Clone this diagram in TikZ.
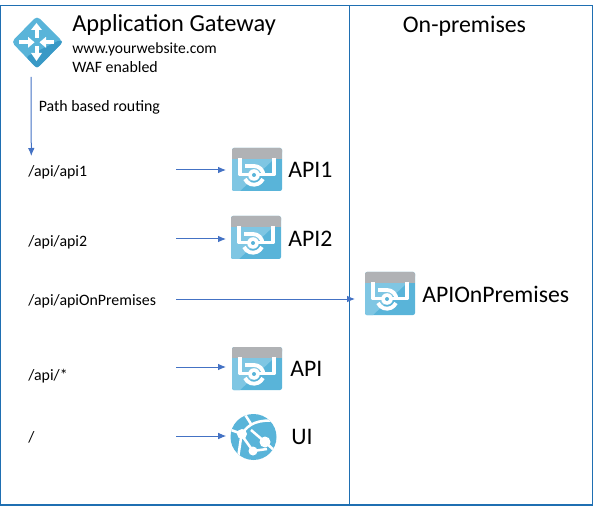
\documentclass[tikz,border=0pt]{standalone}
\usepackage{fontspec}
\setmainfont{Carlito}
\usetikzlibrary{arrows.meta}
\definecolor{frameblue}{HTML}{1F6FB2}
\definecolor{arrowblue}{HTML}{4472C4}
\definecolor{azure}{HTML}{59B4D9}
\definecolor{azurelight}{HTML}{7FC6E3}
\definecolor{azuredark}{HTML}{3999C6}
\definecolor{bargrey}{HTML}{B0B2B5}
\tikzset{
  x=0.75pt,y=-0.75pt,
  frameline/.style={draw=frameblue,line width=0.9pt},
  routeline/.style={draw=arrowblue,line width=0.75pt,-{Latex[length=6pt,width=5pt]}},
  routetext/.style={anchor=west,inner sep=0pt,font=\fontsize{11.9}{14}\selectfont},
  apitext/.style={anchor=west,inner sep=0pt,font=\fontsize{17.8}{20}\selectfont},
  apibox/.style={minimum width=37.5pt,minimum height=32.25pt,inner sep=0pt,anchor=north west},
  apiglyph/.style={draw=white,line width=2.9pt,line join=round},
  globeline/.style={draw=white,line width=1.9pt},
  gwshaft/.style={draw=white,line width=3pt},
  pics/apiicon/.style={code={
    \fill[azure,rounded corners=1.5pt] (0,0) rectangle (50,43);
    \fill[azurelight] (0,41) -- (0,11) -- (42,11) -- (8,43) -- (1,43) -- cycle;
    \fill[bargrey,rounded corners=1.2pt] (0,0) rectangle (50,6);
    \fill[bargrey] (0,4) rectangle (50,11);
    \draw[apiglyph] (8,10) -- (8,26.5) -- (20,26.5);
    \draw[apiglyph] (42,10) -- (42,26.5) -- (27,26.5);
    \draw[apiglyph] (13,18) -- (22,18) arc[start angle=270,end angle=360,radius=9.5];
    \draw[apiglyph] (13,31) arc[start angle=155,end angle=25,radius=9.9];
    \fill[white] (22,27) circle[radius=5.8];
    \fill[azure] (22,27) circle[radius=2];
  }}
}
\begin{document}
\begin{tikzpicture}
\useasboundingbox (0,0) rectangle (593,506);
\coordinate (tl) at (0.7,5.5);
\coordinate (br) at (592.3,505);
\coordinate (divt) at (349.5,5.5);
\coordinate (divb) at (349.5,505);
\draw[frameline] (tl) rectangle (br);
\draw[frameline] (divt) -- (divb);

% gateway icon
\fill[azure,rounded corners=3pt] (37,16) -- (63,42) -- (37,68.5) -- (11.5,42) -- cycle;
\fill[azuredark,rounded corners=2pt] (60,40) -- (63,42) -- (37,68.5) -- (26,57) -- cycle;
\draw[gwshaft] (36.5,38) -- (36.5,28);
\fill[white] (36.5,23) -- (42,30) -- (31,30) -- cycle;
\draw[gwshaft] (36.5,46) -- (36.5,54);
\fill[white] (36.5,61) -- (42,53) -- (31,53) -- cycle;
\draw[gwshaft] (19,42.3) -- (29,42.3);
\fill[white] (34.5,42.3) -- (28,36.8) -- (28,47.8) -- cycle;
\draw[gwshaft] (54,42.3) -- (45,42.3);
\fill[white] (39.5,42.3) -- (46,36.8) -- (46,47.8) -- cycle;

\node[anchor=west,inner sep=0pt,font=\fontsize{18.3}{22}\selectfont] (title) at (72,25) {Application Gateway};
\node[routetext,font=\fontsize{11.65}{14}\selectfont] (site) at (72,49) {www.yourwebsite.com};
\node[routetext] (waf) at (72,67.5) {WAF enabled};
\node[anchor=center,inner sep=0pt,font=\fontsize{17.9}{20}\selectfont] (onprem) at (464.5,26) {On-premises};
\node[routetext] (pbr) at (38.5,107) {Path based routing};

\coordinate (gwout) at (31,77);
\coordinate (gwin) at (31.3,156);
\draw[routeline] (gwout) -- (gwin);

\node[routetext] (r1) at (28,172.5) {/api/api1};
\node[routetext] (r2) at (28,242) {/api/api2};
\node[routetext] (r3) at (28,301) {/api/apiOnPremises};
\node[routetext] (r4) at (28,376) {/api/*};
\node[routetext] (r5) at (28,437.5) {/};

\node[apibox] (api1) at (232,148) {}; \pic at (api1.north west) {apiicon};
\node[apibox] (api2) at (231,216) {}; \pic at (api2.north west) {apiicon};
\node[apibox] (apio) at (365,272) {}; \pic at (apio.north west) {apiicon};
\node[apibox] (api) at (232,347) {}; \pic at (api.north west) {apiicon};

\node[apitext] (l1) at (288,170) {API1};
\node[apitext] (l2) at (288,238.5) {API2};
\node[apitext] (lo) at (422,294) {APIOnPremises};
\node[apitext] (l4) at (290,369) {API};
\node[apitext] (l5) at (291,437) {UI};

% web app globe
\node[circle,minimum size=34.5pt,inner sep=0pt,fill=azure] (ui) at (253.5,437) {};
\begin{scope}
\clip (ui.center) circle[radius=23];
\draw[globeline] (231,430) -- (242,434);
\draw[globeline] (242,434) .. controls (248,424) and (258,419) .. (277,421);
\draw[globeline] (244,413) -- (251,424);
\draw[globeline] (251,430) -- (265,442) -- (275,451);
\draw[globeline] (243,437) -- (253,451) -- (267,449);
\draw[globeline] (241,438) -- (238,458);
\fill[white] (265,442) circle[radius=5.5] (253,451) circle[radius=4.5] (242,434) circle[radius=5];
\end{scope}

\coordinate (s1) at (176,170);
\coordinate (s2) at (176,239);
\coordinate (s3) at (176,299);
\coordinate (s4) at (176,367);
\coordinate (s5) at (176,436);
\draw[routeline,shorten >=4.5pt] (s1) -- (s1 -| api1.west);
\draw[routeline,shorten >=3.75pt] (s2) -- (s2 -| api2.west);
\draw[routeline,shorten >=7.5pt] (s3) -- (s3 -| apio.west);
\draw[routeline,shorten >=4.5pt] (s4) -- (s4 -| api.west);
\draw[routeline,shorten >=3pt] (s5) -- (s5 -| ui.west);
\end{tikzpicture}
\end{document}
